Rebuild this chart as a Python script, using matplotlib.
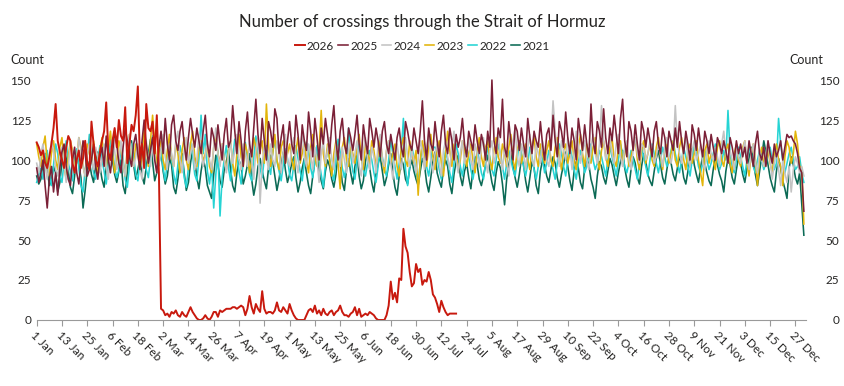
import numpy as np
import pandas as pd
import matplotlib
matplotlib.use("Agg")
import matplotlib.pyplot as plt

# daily crossings, one list per year (non-leap, 1 Jan .. 31 Dec)
y2026 = [111,108,103,106,98,95,102,110,120,135,112,105,100,95,108,115,112,98,92,100,106,95,101,112,98,94,124,110,100,96,105,
         112,118,136,105,100,112,120,108,125,115,112,133,98,110,122,118,128,146,100,110,95,135,120,118,124,104,128,92,
         7,6,3,4,2,5,4,6,3,2,5,3,2,5,8,5,3,1,0,0,1,3,1,0,2,5,5,2,6,5,6,
         7,7,7,8,8,7,8,9,8,3,7,15,8,4,10,7,5,18,7,4,5,5,4,6,11,6,5,8,6,4,
         10,6,3,1,0,0,0,0,3,6,7,5,9,4,6,3,7,4,3,5,6,3,5,6,9,5,3,3,2,4,5,
         8,3,7,2,3,4,3,5,4,3,1,0,0,0,0,3,9,24,13,17,11,26,25,57,46,42,30,21,23,35,
         30,32,22,25,24,30,25,16,14,10,5,12,8,5,3,4,4,4,4]

y2025 = [95,86,92,100,84,70,88,96,80,92,78,95,105,110,96,88,84,100,108,92,85,98,112,105,90,94,100,110,96,88,102,
         108,96,115,100,92,104,118,110,98,92,108,120,112,102,96,110,116,104,94,112,125,110,98,106,114,100,92,108,
         118,104,126,110,100,122,128,112,106,118,124,110,100,114,126,116,108,120,112,104,118,128,110,102,120,114,106,122,110,100,116,
         126,108,112,134,118,104,124,112,96,118,130,110,102,120,138,116,104,126,112,100,124,118,108,132,126,104,114,122,98,112,
         124,110,104,128,116,100,122,112,106,130,118,102,126,114,100,120,110,126,116,104,122,134,112,100,118,126,110,104,120,114,106,
         116,128,110,100,122,112,104,126,118,108,120,112,102,118,124,110,104,116,108,100,114,120,108,102,124,118,110,106,120,112,
         104,118,137,112,100,120,110,106,124,112,102,118,128,110,104,120,112,100,116,108,114,126,110,102,118,112,106,122,112,104,116,
         110,100,118,108,150,112,104,120,114,138,108,102,124,112,100,122,118,106,120,110,102,126,114,104,118,112,108,124,110,100,116,
         120,106,128,112,102,124,118,108,130,114,104,120,112,100,126,116,106,122,110,102,135,112,104,124,118,108,132,114,104,120,
         112,128,116,104,126,138,112,102,124,118,106,122,110,100,124,118,108,120,112,102,118,124,110,104,120,114,102,118,112,106,120,
         108,124,112,104,118,110,100,122,116,106,120,110,102,118,112,104,116,108,100,114,110,104,112,106,98,114,108,100,112,104,
         110,102,108,98,112,104,96,110,118,104,100,108,96,112,104,98,110,102,106,112,100,108,116,114,115,112,110,104,95,92,68]

y2024 = [98,92,104,110,96,88,100,112,106,94,90,102,108,98,86,96,110,104,92,100,114,106,96,90,104,110,100,94,108,102,92,
         100,110,96,88,104,114,106,94,100,112,98,90,106,116,104,96,102,110,94,88,106,112,100,96,110,104,92,98,
         106,116,102,94,110,104,96,112,118,100,92,106,114,98,104,110,94,100,116,108,96,102,112,100,94,108,120,104,96,110,100,
         92,104,112,98,106,116,100,94,110,104,96,112,100,88,106,114,73,98,108,102,94,110,100,96,112,104,92,106,116,100,
         96,108,114,100,92,106,118,102,96,110,104,94,108,100,86,104,112,98,106,114,100,94,110,104,96,108,100,92,106,112,98,
         104,112,96,90,106,114,100,94,108,102,92,110,116,100,96,106,112,98,88,104,110,100,94,108,114,102,96,106,100,92,
         100,112,106,94,108,116,100,92,104,110,98,90,106,112,102,94,108,118,100,92,104,112,98,106,114,100,94,110,104,96,108,
         114,100,92,106,112,98,104,116,102,94,108,100,90,106,112,120,102,96,110,104,94,108,116,100,96,110,104,98,112,106,100,
         96,110,137,118,104,96,112,106,100,114,108,94,104,118,110,98,106,112,100,94,108,116,104,98,110,134,112,100,106,114,
         104,98,110,116,102,96,108,112,100,94,106,114,104,98,110,108,100,104,112,106,98,102,110,104,96,108,114,102,98,106,134,
         110,104,98,108,114,102,96,106,112,100,104,110,98,94,106,112,104,100,108,102,96,110,118,104,98,106,100,94,108,102,
         98,106,112,100,94,104,110,98,92,106,100,96,104,112,100,88,98,106,94,84,100,92,86,96,80,94,102,98,92,96,90]

y2023 = [110,102,96,108,115,98,90,104,112,100,94,108,114,96,88,102,112,106,96,100,114,108,96,90,110,104,98,112,100,92,106,
         114,100,96,108,118,104,92,100,112,106,98,90,108,116,102,96,110,104,94,102,120,108,96,112,128,110,98,104,
         112,100,94,106,116,102,96,110,104,92,106,114,100,94,110,118,102,96,108,112,98,104,110,96,92,108,116,104,98,110,100,
         94,106,112,98,90,104,116,102,96,110,104,92,100,114,108,98,106,112,98,135,110,96,104,116,100,94,108,112,98,104,
         110,100,94,106,114,98,104,112,100,92,108,116,102,96,106,131,104,96,110,100,90,104,112,98,82,108,114,100,96,110,104,
         98,108,116,102,94,110,104,98,112,106,96,104,114,100,92,106,112,98,104,110,96,90,108,114,100,96,112,104,98,106,
         78,100,112,104,96,108,116,102,94,106,112,98,90,104,118,106,96,110,104,94,100,112,106,96,104,110,100,92,106,114,102,
         96,108,112,100,94,106,114,102,98,110,104,96,108,116,100,94,106,112,98,104,110,100,94,108,114,102,96,110,104,98,106,
         112,100,96,108,114,102,94,106,110,98,104,112,100,94,108,116,104,96,110,102,98,108,114,100,94,106,112,102,96,108,
         114,100,96,108,112,98,104,110,96,102,108,114,100,94,106,112,98,104,110,100,96,108,114,102,94,106,110,98,104,112,100,
         96,108,114,100,94,106,110,98,104,112,100,92,84,106,110,98,104,100,94,108,112,100,96,106,110,98,92,104,110,100,
         96,108,112,98,90,104,110,100,84,102,108,96,100,106,98,92,104,110,100,96,84,102,112,108,98,104,118,110,96,95,60]

y2022 = [86,91,95,88,102,106,92,84,97,110,104,90,86,99,112,98,93,87,101,107,95,84,80,94,103,116,101,92,88,99,109,
         100,93,85,97,113,106,95,89,94,108,101,88,83,96,110,103,91,87,99,111,105,94,89,101,115,104,93,97,
         107,95,87,99,113,101,91,85,97,109,102,89,83,95,111,103,91,87,101,128,104,116,93,85,97,70,91,106,65,89,101,
         109,95,87,101,113,103,93,85,99,111,101,91,87,101,115,103,95,89,101,109,97,91,105,113,99,93,87,97,107,101,
         91,87,97,109,101,93,87,99,111,105,95,89,99,109,99,91,83,97,107,101,93,87,101,113,105,95,89,97,120,103,93,
         88,100,110,102,94,90,98,106,100,92,86,96,108,102,94,90,100,112,104,96,88,98,106,126,94,84,96,108,102,92,
         86,98,110,104,96,90,100,108,108,102,94,88,96,106,100,92,86,98,110,104,96,90,100,108,102,94,88,96,106,100,92,
         88,98,108,102,94,90,100,110,104,96,88,98,106,100,94,90,100,112,104,96,90,98,108,102,94,88,96,106,100,92,98,
         106,100,94,88,98,110,104,96,90,100,108,102,94,88,98,106,100,92,96,104,110,100,94,98,106,102,96,90,100,108,
         102,96,90,100,110,104,96,92,98,106,100,94,88,98,108,102,96,90,100,110,104,98,92,100,108,102,96,100,106,112,104,
         98,92,100,108,102,96,90,100,110,104,96,92,98,106,100,94,98,104,110,100,94,98,106,100,131,104,96,92,100,108,
         102,96,90,100,108,104,96,92,100,106,100,94,98,104,108,100,94,98,126,110,100,92,98,104,108,100,94,96,102,92,86]

y2021 = [90,85,88,98,104,95,84,87,96,92,80,86,99,108,101,93,83,79,90,103,97,89,70,81,94,99,91,86,97,105,96,
         88,83,95,102,110,99,91,86,93,100,84,79,92,106,112,97,88,94,101,90,85,96,104,113,99,87,92,98,
         105,93,85,90,101,97,83,79,88,99,104,92,81,86,98,107,100,89,82,93,101,95,84,80,76,91,103,98,87,83,94,
         99,106,94,84,80,92,100,96,85,90,97,104,88,78,85,96,101,93,87,82,95,103,99,90,81,88,97,105,94,86,
         91,98,102,89,80,86,95,101,92,84,79,90,99,105,94,87,82,93,100,96,88,83,91,104,98,86,81,94,101,92,85,
         96,103,90,82,87,99,106,95,86,80,91,98,102,93,84,89,97,104,92,83,78,90,101,97,88,85,95,100,93,88,
         84,93,101,97,86,80,89,99,105,92,87,83,94,100,96,85,79,91,99,103,90,84,93,98,89,82,94,102,97,88,84,
         90,97,103,94,86,81,92,99,95,85,72,88,97,104,96,89,83,91,101,97,87,80,89,99,95,84,79,93,100,97,90,
         86,94,102,98,89,83,91,97,105,96,87,81,93,99,95,86,82,95,101,97,88,83,76,90,99,96,89,85,93,101,
         97,90,84,92,99,106,95,88,83,94,102,98,89,85,96,104,99,91,87,84,93,101,106,97,89,85,94,102,98,91,87,
         95,102,98,89,85,93,101,107,97,91,86,95,103,98,92,87,84,94,102,97,91,87,80,93,101,97,89,85,94,102,
         98,91,86,95,101,108,99,91,84,93,102,112,105,97,89,84,80,93,101,95,87,82,76,95,102,97,89,85,92,72,53]

years = ["2026", "2025", "2024", "2023", "2022", "2021"]
series = [y2026, y2025, y2024, y2023, y2022, y2021]
colors = ["#c8190e", "#7b2037", "#c3c3c3", "#e3b50a", "#26d4d4", "#0b6a55"]

# x tick every 12 days starting 1 Jan
days = pd.date_range("2025-01-01", "2025-12-31", freq="D")
tick_pos = np.arange(0, 365, 12)
tick_lab = [f"{days[i].day} {days[i].strftime('%b')}" for i in tick_pos]

plt.rcParams["font.family"] = ["Lato", "DejaVu Sans"]

fig = plt.figure(figsize=(8.45, 3.86), dpi=100)
ax = fig.add_axes([0.0434, 0.171, 0.9104, 0.6217])

# draw oldest first so 2026 ends up on top
for yr, vals, col in reversed(list(zip(years, series, colors))):
    lw = 1.4 if yr == "2026" else 1.15
    ax.plot(np.arange(len(vals)), vals, color=col, lw=lw, label=yr, clip_on=False)

ax.set_xlim(0, 365)
ax.set_ylim(0, 150)
ax.set_yticks([0, 25, 50, 75, 100, 125, 150])
for s in ["top", "left", "right"]:
    ax.spines[s].set_visible(False)
ax.spines["bottom"].set_color("#9a9a9a")
ax.tick_params(axis="y", length=0, labelsize=8.5, pad=4, labelcolor="#252423")
ax.set_xticks(tick_pos)
ax.set_xticklabels(tick_lab, rotation=-45, ha="left", va="top",
                   rotation_mode="anchor", fontsize=8.5, color="#252423")
ax.tick_params(axis="x", length=4, color="#9a9a9a", pad=3)

ax2 = ax.twinx()
ax2.set_ylim(0, 150)
ax2.set_yticks([0, 25, 50, 75, 100, 125, 150])
for s in ax2.spines.values():
    s.set_visible(False)
ax2.tick_params(axis="y", length=0, labelsize=8.5, pad=24, labelcolor="#252423")
for t in ax2.get_yticklabels():
    t.set_ha("right")

fig.text(0.012, 1 - 60 / 386, "Count", fontsize=9, va="center", ha="left", color="#252423")
fig.text(0.974, 1 - 60 / 386, "Count", fontsize=9, va="center", ha="right", color="#252423")

fig.text(0.5, 1 - 22 / 386, "Number of crossings through the Strait of Hormuz",
         fontsize=12, ha="center", va="center", color="#252423")

h, l = ax.get_legend_handles_labels()
fig.legend(h[::-1], l[::-1], loc="center", bbox_to_anchor=(0.5, 1 - 46 / 386), ncol=6,
           frameon=False, fontsize=8.5, handlelength=0.8, handletextpad=0.2,
           columnspacing=0.35, borderpad=0, labelcolor="#252423")

fig.savefig("out.png", dpi=100)
